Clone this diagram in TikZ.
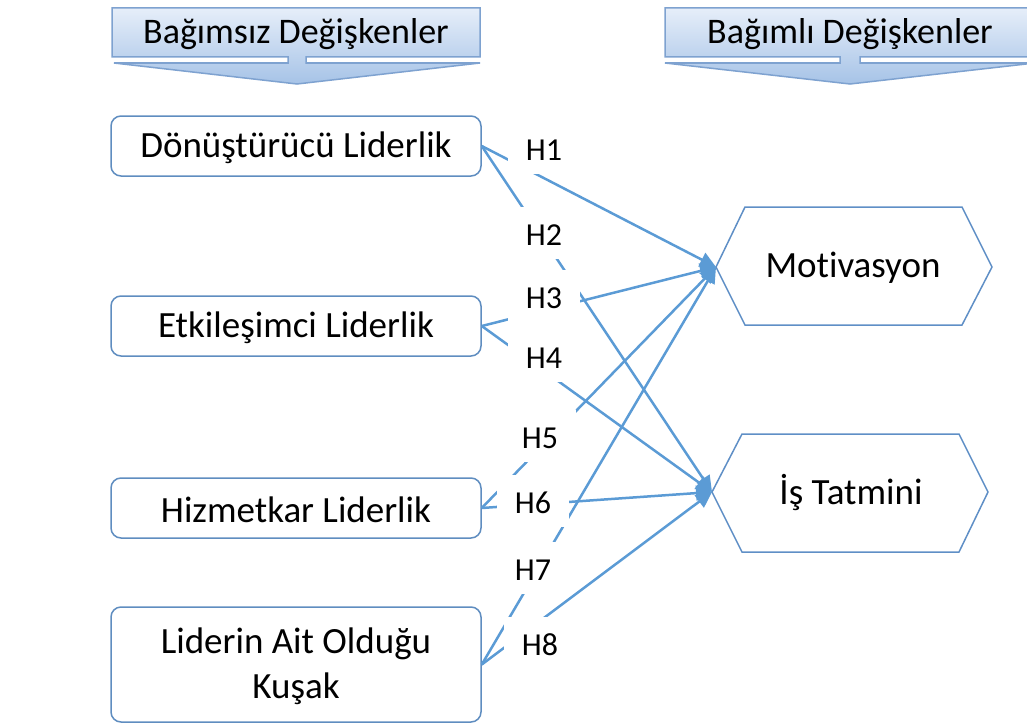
\documentclass[tikz,border=0pt]{standalone}
\usepackage{fontspec}
\setmainfont{Carlito}[Ligatures=NoCommon]
\usetikzlibrary{arrows.meta}
\definecolor{linec}{HTML}{5B9BD5}
\definecolor{boxc}{HTML}{5F8DC0}
\definecolor{hexc}{HTML}{5F8FC6}
\definecolor{banTop}{HTML}{E6EEF9}
\definecolor{banBot}{HTML}{A6C3E7}
\definecolor{banLine}{HTML}{7EA2D0}
\begin{document}
\begin{tikzpicture}[x=1pt,y=-1pt,
  box/.style={draw=boxc, line width=1.5pt, rounded corners=10pt, minimum width=370pt,
    minimum height=60pt, inner sep=0pt, font=\fontsize{37}{45}\selectfont, align=center},
  hexline/.style={draw=hexc, line width=1.5pt, line join=miter},
  hextext/.style={font=\fontsize{37}{44}\selectfont, inner sep=0pt},
  conn/.style={draw=linec, line width=2.5pt, -{Triangle[length=16pt,width=15pt]}},
  hlab/.style={fill=white, inner xsep=18pt, inner ysep=0pt, text height=38pt,
    text depth=14pt, anchor=base, font=\fontsize{32}{38}\selectfont},
  banner/.style={draw=banLine, line width=1.5pt, top color=banTop, bottom color=banBot, line join=miter},
  bantext/.style={font=\fontsize{36}{44}\selectfont, inner sep=0pt}
]
\useasboundingbox (0,0) rectangle (1027,725);
\begin{scope}
\clip (0,0) rectangle (1027,725);
% banners
\path[banner] (112,8) -- (480,8) -- (480,57) -- (306,57) -- (306,63) -- (480,63)
  -- (297,84) -- (114,63) -- (288,63) -- (288,57) -- (112,57) -- cycle;
\path[banner] (665,8) -- (1035,8) -- (1035,57) -- (860,57) -- (860,63) -- (1035,63)
  -- (850,84) -- (665,63) -- (840,63) -- (840,57) -- (665,57) -- cycle;
\end{scope}
\node[bantext] (bindep) at (296,34) {Bağımsız Değişkenler};
\node[bantext] (bdep) at (850,34) {Bağımlı Değişkenler};

% independent boxes
\node[box] (d) at (296,146) {};
\node[box] (e) at (296,326) {};
\node[box] (h) at (296,508) {};
\node[box, minimum height=115pt] (l) at (296,664.5) {};
\node[font=\fontsize{37}{45}\selectfont, inner sep=0pt] (dt) at (296,148) {Dönüştürücü Liderlik};
\node[font=\fontsize{37}{45}\selectfont, inner sep=0pt] (et) at (296,328) {Etkileşimci Liderlik};
\node[font=\fontsize{37}{45}\selectfont, inner sep=0pt] (ht) at (296,510) {Hizmetkar Liderlik};
\node[font=\fontsize{37}{45}\selectfont, inner sep=0pt, align=center] (lt) at (296,666) {Liderin Ait Olduğu\\Kuşak};

% dependent hexagons
\draw[hexline] (716,267) -- (745,207) -- (962,207) -- (992,267) -- (962,325) -- (745,325) -- cycle;
\draw[hexline] (712,492) -- (742,434) -- (959,434) -- (988,492) -- (959,552) -- (742,552) -- cycle;
\node[hextext] (mot) at (853,268) {Motivasyon};
\node[hextext] (is) at (851,493) {İş Tatmini};
\coordinate (motL) at (716,267);
\coordinate (isL) at (712,492);

% connectors
\draw[conn] (d.east) -- (motL);
\draw[conn] (d.east) -- (isL);
\draw[conn] (e.east) -- (motL);
\draw[conn] (e.east) -- (isL);
\draw[conn] (h.east) -- (motL);
\draw[conn] (h.east) -- (isL);
\draw[conn] (l.east) -- (motL);
\draw[conn] (l.east) -- (isL);

% hypothesis labels
\node[hlab] (h1) at (544,160) {H1};
\node[hlab] (h2) at (544,245) {H2};
\node[hlab] (h3) at (544,308) {H3};
\node[hlab] (h4) at (544,368) {H4};
\node[hlab] (h5) at (540,448) {H5};
\node[hlab] (h6) at (533,513) {H6};
\node[hlab] (h7) at (533,580) {H7};
\node[hlab] (h8) at (540,655) {H8};
\end{tikzpicture}
\end{document}
